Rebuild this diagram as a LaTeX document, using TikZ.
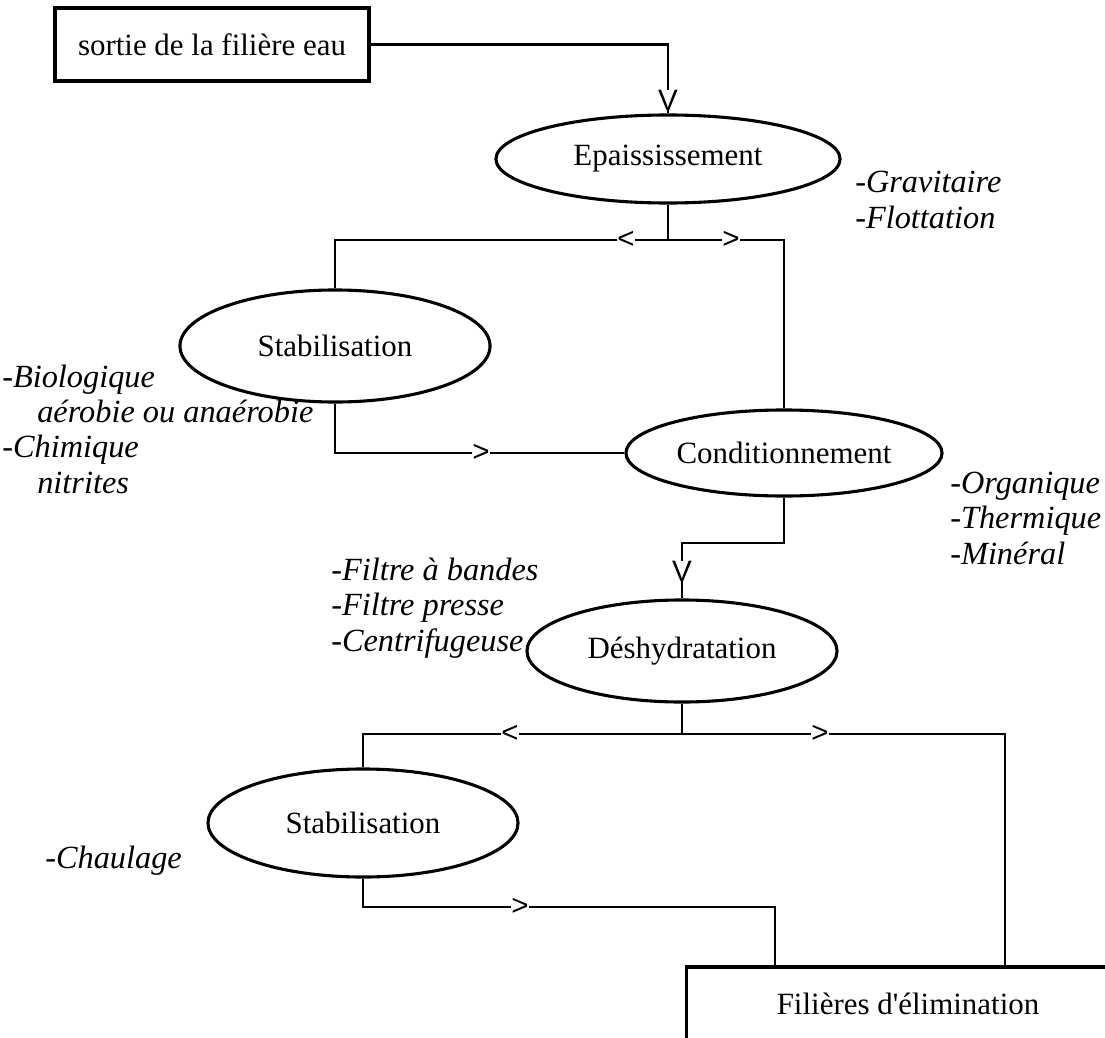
\documentclass[tikz,border=0pt]{standalone}
\usepackage{fontspec}
\setmainfont{Liberation Serif}
\newfontfamily\droit{Liberation Serif}
\newfontfamily\markfont{Liberation Sans}
\usetikzlibrary{shapes.geometric,positioning}
\newcommand{\taille}{\fontsize{22}{24.9}\selectfont}

\tikzset{
	etape/.style={draw,ellipse,line width=2.2pt,inner sep=0pt},
	boite/.style={draw,rectangle,line width=2.2pt,inner sep=0pt},
	liaison/.style={line width=1.5pt},
	fleche/.style={fill=white,inner sep=0pt,font=\markfont\fontsize{21}{21}\selectfont},
	procede/.style={anchor=base west,align=left,inner sep=0pt,font=\fontsize{23}{24.9}\selectfont\itshape}
}

\begin{document}
\begin{tikzpicture}[x=0.025cm,y=-0.025cm,font=\taille]
				
				\fill[white] (0,0) rectangle (1105,1038);
				\useasboundingbox (0,0) rectangle (1105,1038);
				
				\node[boite,minimum width=7.85cm,minimum height=1.825cm] (sortie) at (212,44.5) {sortie de la filière eau};
				\node[etape,minimum width=8.6cm,minimum height=2.2cm] (epais) at (668,159) {Epaississement};
				\node[etape,minimum width=7.75cm,minimum height=2.8cm] (stab1) at (335,346) {Stabilisation};
				\node[etape,minimum width=7.9cm,minimum height=2.15cm] (cond) at (784,453) {Conditionnement};
				\node[etape,minimum width=7.75cm,minimum height=2.55cm] (desh) at (682,651) {Déshydratation};
				\node[etape,minimum width=7.75cm,minimum height=2.7cm] (stab2) at (363,823) {Stabilisation};
				\node[boite,minimum width=11.05cm,minimum height=1.85cm] (elim) at (908,1004) {Filières d{\droit '}élimination};
				
				\draw[liaison] (sortie.east) -| (epais.north);
				\node[fleche] (f1) at (668,100) {V};
				
				\coordinate (j1) at (668,240);
				\draw[liaison] (epais.south) -- (j1);
				\draw[liaison] (j1) -| (stab1.north);
				\draw[liaison] (j1) -| (cond.north);
				\node[fleche] (f2) at (626,240) {<};
				\node[fleche] (f3) at (731,240) {>};
				
				\draw[liaison] (stab1.south) |- (cond.west);
				\node[fleche] (f4) at (481,453) {>};
				
				\coordinate (j2) at (784,543);
				\draw[liaison] (cond.south) -- (j2) -| (desh.north);
				\node[fleche] (f5) at (682,571) {V};
				
				\coordinate (j3) at (682,734);
				\draw[liaison] (desh.south) -- (j3);
				\draw[liaison] (j3) -| (stab2.north);
				\draw[liaison] (j3) -| ([xshift=2.425cm]elim.north);
				\node[fleche] (f6) at (510,734) {<};
				\node[fleche] (f7) at (820,734) {>};
				
				\coordinate (j4) at (363,907);
				\draw[liaison] (stab2.south) -- (j4) -| ([xshift=-3.325cm]elim.north);
				\node[fleche] (f8) at (520,907) {>};
				
				\node[procede] (grav) at (855,228) {-Gravitaire\\-Flottation};
				\node[procede] (bio) at (2,493) {-Biologique\\\hspace*{0.875cm}aérobie ou anaérobie\\-Chimique\\\hspace*{0.875cm}nitrites};
				\node[procede] (orga) at (950,564) {-Organique\\-Thermique\\-Minéral};
				\node[procede] (filtre) at (331,651) {-Filtre à bandes\\-Filtre presse\\-Centrifugeuse};
				\node[procede] (chaux) at (45,868) {-Chaulage};
				
\end{tikzpicture}
\end{document}
